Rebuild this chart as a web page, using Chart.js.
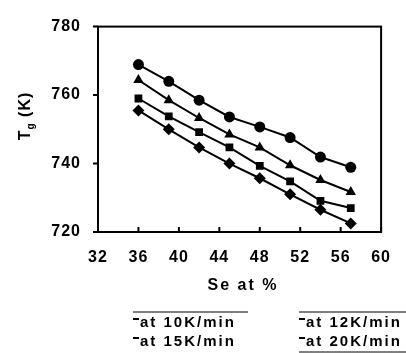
<!DOCTYPE html>
<html>
<head>
<meta charset="utf-8">
<script src="https://cdn.jsdelivr.net/npm/chart.js@4"></script>
<style>
  html, body { margin: 0; padding: 0; background: #fff; }
  #wrap { width: 406px; height: 353px; }
</style>
</head>
<body>
<div id="wrap"><canvas id="tgChart" width="406" height="353"></canvas></div>
<script>
// Se content (at %)
const seContent = [36, 39, 42, 45, 48, 51, 54, 57];

// Tg (K) at each heating rate
const tg20 = [768.9, 764.0, 758.5, 753.6, 750.7, 747.6, 741.9, 738.9];
const tg15 = [764.4, 758.5, 753.3, 748.5, 744.7, 739.5, 735.2, 731.7];
const tg12 = [759.0, 753.8, 749.2, 744.7, 739.3, 734.8, 729.1, 727.0];
const tg10 = [755.5, 750.0, 744.7, 740.0, 735.7, 731.0, 726.5, 722.5];

const seriesLabels = ["at 20K/min", "at 15K/min", "at 12K/min", "at 10K/min"];
const xTicks = [32, 36, 40, 44, 48, 52, 56, 60];
const yTicks = [720, 740, 760, 780];

const FONT = "'Liberation Sans', Arial, sans-serif";

function toPoints(vals) {
  return seContent.map((x, i) => ({ x: x, y: vals[i] }));
}

function makeSet(label, vals, shape, radius) {
  return {
    label: label,
    data: toPoints(vals),
    borderColor: "#000",
    backgroundColor: "#000",
    borderWidth: 2,
    pointStyle: shape,
    pointRadius: radius,
    pointBorderWidth: 0,
    tension: 0,
  };
}

// frame, ticks, titles and legend
const decorPlugin = {
  id: "decor",
  beforeDraw(chart) {
    chart.ctx.letterSpacing = "1px";
  },
  afterDraw(chart) {
    const ctx = chart.ctx;
    const area = chart.chartArea;
    const xs = chart.scales.x;
    const ys = chart.scales.y;
    ctx.save();
    ctx.strokeStyle = "#000";
    ctx.lineWidth = 2;
    ctx.strokeRect(area.left, area.top, area.right - area.left, area.bottom - area.top);

    ctx.beginPath();
    xTicks.forEach((v) => {
      const px = xs.getPixelForValue(v);
      ctx.moveTo(px, area.bottom);
      ctx.lineTo(px, area.bottom - 5);
    });
    yTicks.forEach((v) => {
      const py = ys.getPixelForValue(v);
      ctx.moveTo(area.left, py);
      ctx.lineTo(area.left - 5, py);
    });
    ctx.stroke();

    ctx.fillStyle = "#000";
    // x title
    ctx.letterSpacing = "2px";
    ctx.font = "bold 16px " + FONT;
    ctx.textAlign = "center";
    ctx.textBaseline = "middle";
    ctx.fillText("Se at %", 243, 286);

    // y title: T with subscript g
    ctx.save();
    ctx.letterSpacing = "1px";
    ctx.translate(26, 116);
    ctx.rotate(-Math.PI / 2);
    ctx.textAlign = "left";
    ctx.font = "bold 16px " + FONT;
    const tW = ctx.measureText("T").width;
    ctx.font = "bold 10px " + FONT;
    const gW = ctx.measureText("g").width;
    ctx.font = "bold 16px " + FONT;
    const kW = ctx.measureText(" (K)").width;
    let start = -(tW + gW + kW) / 2;
    ctx.fillText("T", start, 0);
    ctx.font = "bold 10px " + FONT;
    ctx.fillText("g", start + tW, 5);
    ctx.font = "bold 16px " + FONT;
    ctx.fillText(" (K)", start + tW + gW, 0);
    ctx.restore();

    // legend
    ctx.letterSpacing = "2px";
    ctx.font = "bold 15px " + FONT;
    ctx.textAlign = "left";
    ctx.lineWidth = 1;
    ctx.beginPath();
    ctx.moveTo(133, 312);
    ctx.lineTo(248, 312);
    ctx.moveTo(299, 312);
    ctx.lineTo(406, 312);
    ctx.moveTo(299, 352);
    ctx.lineTo(406, 352);
    ctx.stroke();
    const cells = [
      [seriesLabels[3], 133, 323],
      [seriesLabels[2], 299, 323],
      [seriesLabels[1], 133, 342],
      [seriesLabels[0], 299, 342],
    ];
    cells.forEach(([txt, x, y]) => {
      ctx.fillRect(x, y - 5, 6, 2);
      ctx.fillText(txt, x + 7, y);
    });
    ctx.restore();
  },
};

new Chart(document.getElementById("tgChart"), {
  type: "line",
  data: {
    datasets: [
      makeSet(seriesLabels[0], tg20, "circle", 5.5),
      makeSet(seriesLabels[1], tg15, "triangle", 6),
      makeSet(seriesLabels[2], tg12, "rect", 5.5),
      makeSet(seriesLabels[3], tg10, "rectRot", 6),
    ],
  },
  options: {
    responsive: false,
    animation: false,
    layout: { padding: { top: 21, right: 22, left: 0, bottom: 0 } },
    plugins: { legend: { display: false }, tooltip: { enabled: false } },
    scales: {
      x: {
        type: "linear",
        min: 32,
        max: 60,
        afterBuildTicks: (s) => { s.ticks = xTicks.map((v) => ({ value: v })); },
        afterFit: (s) => { s.height = 121; },
        grid: { display: false, drawTicks: false },
        border: { display: false },
        ticks: { padding: 16, color: "#000", font: { family: FONT, size: 16, weight: "bold" } },
      },
      y: {
        min: 720,
        max: 780,
        afterBuildTicks: (s) => { s.ticks = yTicks.map((v) => ({ value: v })); },
        afterFit: (s) => { s.width = 98; },
        grid: { display: false, drawTicks: false },
        border: { display: false },
        ticks: { padding: 17, color: "#000", font: { family: FONT, size: 16, weight: "bold" } },
      },
    },
  },
  plugins: [decorPlugin],
});
</script>
</body>
</html>
